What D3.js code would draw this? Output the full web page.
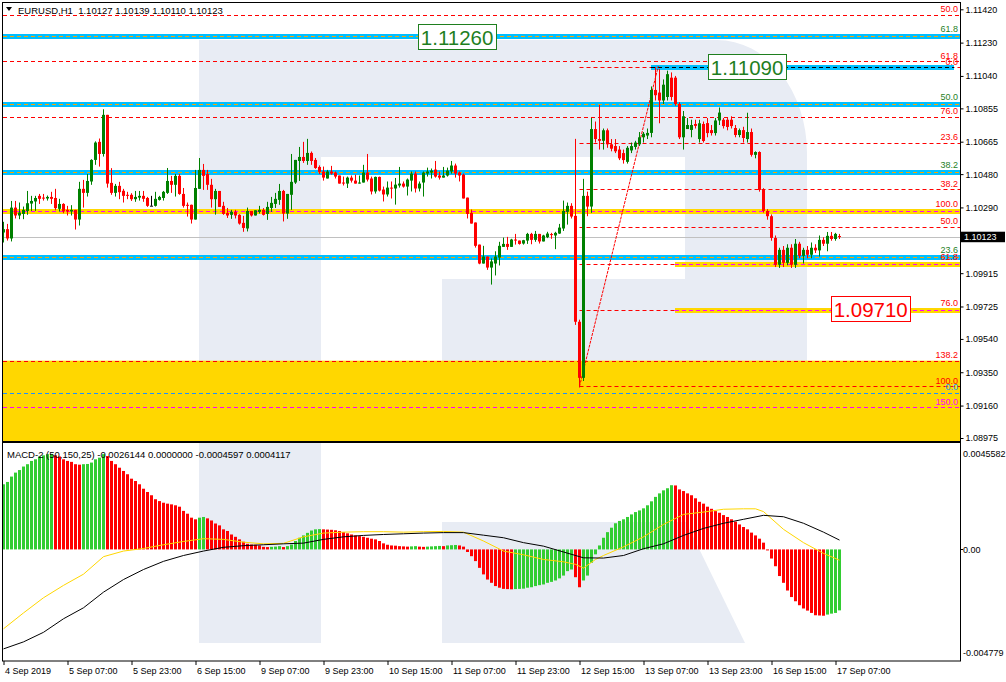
<!DOCTYPE html>
<html><head><meta charset="utf-8">
<script src="https://cdn.jsdelivr.net/npm/d3@7"></script>
<style>body{margin:0;background:#fff}svg{display:block}text{font-family:"Liberation Sans",Arial,sans-serif;white-space:pre}</style>
</head><body><svg id="c" width="1006" height="682"></svg>
<script>
// ---------- DATA ----------
const symbol = "EURUSD,H1";
const tickLabels = ["4 Sep 2019","5 Sep 07:00","5 Sep 23:00","6 Sep 15:00","9 Sep 07:00","9 Sep 23:00","10 Sep 15:00","11 Sep 07:00","11 Sep 23:00","12 Sep 15:00","13 Sep 07:00","13 Sep 23:00","16 Sep 15:00","17 Sep 07:00"];
const tickBars = [0,16,32,48,64,80,96,112,128,144,160,176,192,208];
// 1.10100 is hidden behind the current-price tag in the reference
const priceTicks = [1.11420,1.11230,1.11040,1.10855,1.10665,1.10480,1.10290,1.09915,1.09725,1.09540,1.09350,1.09160,1.08975];
const open = [
1.10147,1.10166,1.10113,1.10289,1.10244,1.10253,1.10270,1.10312,1.10324,1.10356,
1.10346,1.10341,1.10350,1.10344,1.10282,1.10310,1.10276,1.10267,1.10276,1.10221,
1.10396,1.10373,1.10438,1.10561,1.10664,1.10595,1.10818,1.10430,1.10373,1.10413,
1.10385,1.10362,1.10362,1.10337,1.10346,1.10356,1.10344,1.10300,1.10299,1.10333,
1.10344,1.10373,1.10441,1.10419,1.10470,1.10367,1.10305,1.10305,1.10221,1.10396,
1.10504,1.10481,1.10419,1.10337,1.10384,1.10299,1.10259,1.10248,1.10265,1.10248,
1.10202,1.10170,1.10270,1.10244,1.10265,1.10276,1.10253,1.10287,1.10310,1.10333,
1.10384,1.10255,1.10362,1.10432,1.10555,1.10578,1.10555,1.10601,1.10561,1.10521,
1.10495,1.10455,1.10495,1.10489,1.10472,1.10432,1.10426,1.10460,1.10443,1.10426,
1.10432,1.10489,1.10455,1.10381,1.10464,1.10392,1.10364,1.10403,1.10398,1.10415,
1.10426,1.10409,1.10443,1.10483,1.10398,1.10432,1.10483,1.10489,1.10506,1.10472,
1.10460,1.10472,1.10495,1.10529,1.10489,1.10477,1.10346,1.10259,1.10204,1.10078,
1.09970,1.10010,1.09947,1.09970,1.10004,1.10065,1.10082,1.10065,1.10107,1.10101,
1.10084,1.10101,1.10139,1.10105,1.10139,1.10096,1.10120,1.10138,1.10130,1.10141,
1.10170,1.10265,1.10299,1.10242,1.09638,1.09318,1.10356,1.10295,1.10737,1.10680,
1.10670,1.10730,1.10650,1.10640,1.10620,1.10600,1.10550,1.10615,1.10635,1.10650,
1.10690,1.10700,1.10715,1.10960,1.10945,1.10900,1.10920,1.11030,1.11030,1.10880,
1.10690,1.10737,1.10732,1.10766,1.10680,1.10766,1.10771,1.10731,1.10714,1.10786,
1.10790,1.10790,1.10790,1.10743,1.10703,1.10731,1.10680,1.10720,1.10590,1.10606,
1.10390,1.10270,1.10240,1.10116,1.09963,1.10048,1.09974,1.10060,1.09963,1.10083,
1.10014,1.10048,1.10020,1.10060,1.10045,1.10105,1.10083,1.10128,1.10110,1.10127];
const high = [
1.10208,1.10196,1.10327,1.10327,1.10318,1.10295,1.10384,1.10356,1.10356,1.10367,
1.10367,1.10358,1.10379,1.10396,1.10339,1.10314,1.10299,1.10303,1.10276,1.10436,
1.10447,1.10481,1.10565,1.10667,1.10683,1.10850,1.10818,1.10514,1.10424,1.10436,
1.10396,1.10379,1.10371,1.10384,1.10384,1.10384,1.10350,1.10356,1.10379,1.10356,
1.10384,1.10515,1.10470,1.10481,1.10481,1.10401,1.10318,1.10306,1.10504,1.10572,
1.10538,1.10504,1.10453,1.10396,1.10384,1.10322,1.10287,1.10276,1.10276,1.10251,
1.10242,1.10289,1.10270,1.10274,1.10299,1.10286,1.10322,1.10350,1.10373,1.10424,
1.10390,1.10367,1.10595,1.10561,1.10635,1.10664,1.10681,1.10609,1.10572,1.10530,
1.10523,1.10504,1.10527,1.10495,1.10472,1.10466,1.10466,1.10472,1.10477,1.10472,
1.10533,1.10595,1.10466,1.10466,1.10466,1.10409,1.10438,1.10438,1.10458,1.10521,
1.10438,1.10455,1.10495,1.10495,1.10438,1.10495,1.10517,1.10512,1.10555,1.10495,
1.10521,1.10517,1.10555,1.10540,1.10495,1.10483,1.10346,1.10278,1.10204,1.10078,
1.10071,1.10010,1.09999,1.10040,1.10094,1.10118,1.10122,1.10111,1.10139,1.10101,
1.10105,1.10145,1.10145,1.10156,1.10139,1.10134,1.10151,1.10145,1.10151,1.10196,
1.10329,1.10318,1.10314,1.10681,1.09650,1.10453,1.10380,1.10800,1.10780,1.10875,
1.10740,1.10740,1.10680,1.10680,1.10640,1.10620,1.10640,1.10660,1.10670,1.10720,
1.10720,1.10740,1.10980,1.11090,1.11080,1.11020,1.11070,1.11060,1.11040,1.10890,
1.10840,1.10800,1.10790,1.10790,1.10790,1.10780,1.10800,1.10760,1.10800,1.10860,
1.10800,1.10800,1.10810,1.10760,1.10740,1.10750,1.10830,1.10740,1.10610,1.10610,
1.10400,1.10280,1.10250,1.10130,1.10060,1.10070,1.10080,1.10080,1.10110,1.10094,
1.10060,1.10070,1.10090,1.10080,1.10130,1.10120,1.10150,1.10150,1.10145,1.10139];
const low = [
1.10090,1.10101,1.10096,1.10227,1.10223,1.10223,1.10248,1.10270,1.10270,1.10310,
1.10329,1.10329,1.10310,1.10274,1.10267,1.10257,1.10244,1.10244,1.10164,1.10187,
1.10289,1.10352,1.10419,1.10533,1.10523,1.10580,1.10403,1.10362,1.10352,1.10337,
1.10318,1.10337,1.10327,1.10322,1.10329,1.10322,1.10293,1.10299,1.10295,1.10329,
1.10329,1.10367,1.10373,1.10352,1.10362,1.10289,1.10238,1.10198,1.10221,1.10396,
1.10390,1.10390,1.10289,1.10249,1.10293,1.10248,1.10230,1.10225,1.10227,1.10192,
1.10151,1.10153,1.10238,1.10244,1.10255,1.10244,1.10219,1.10265,1.10287,1.10305,
1.10210,1.10225,1.10276,1.10424,1.10441,1.10544,1.10533,1.10533,1.10510,1.10480,
1.10443,1.10455,1.10477,1.10455,1.10426,1.10415,1.10401,1.10432,1.10426,1.10426,
1.10432,1.10438,1.10364,1.10369,1.10381,1.10324,1.10352,1.10341,1.10306,1.10403,
1.10403,1.10358,1.10381,1.10375,1.10381,1.10352,1.10466,1.10455,1.10460,1.10449,
1.10460,1.10466,1.10483,1.10460,1.10438,1.10341,1.10227,1.10198,1.10061,1.09966,
1.09970,1.09934,1.09850,1.09902,1.09959,1.10065,1.10048,1.10065,1.10078,1.10078,
1.10078,1.10082,1.10080,1.10094,1.10084,1.10096,1.10115,1.10111,1.10052,1.10139,
1.10156,1.10192,1.10227,1.09620,1.09263,1.09300,1.10240,1.10259,1.10660,1.10620,
1.10620,1.10630,1.10610,1.10600,1.10560,1.10540,1.10540,1.10600,1.10620,1.10640,
1.10660,1.10680,1.10690,1.10900,1.10770,1.10880,1.10900,1.10900,1.10870,1.10680,
1.10620,1.10740,1.10690,1.10740,1.10660,1.10660,1.10690,1.10700,1.10700,1.10760,
1.10740,1.10730,1.10740,1.10690,1.10690,1.10660,1.10660,1.10580,1.10570,1.10380,
1.10260,1.10220,1.10100,1.09950,1.09945,1.09950,1.09960,1.09945,1.09945,1.10000,
1.09970,1.10000,1.10000,1.10030,1.10010,1.10070,1.10040,1.10100,1.10100,1.10110];
const close = [
1.10166,1.10113,1.10289,1.10244,1.10261,1.10276,1.10314,1.10327,1.10344,1.10339,
1.10341,1.10350,1.10339,1.10286,1.10310,1.10267,1.10267,1.10276,1.10221,1.10396,
1.10373,1.10441,1.10561,1.10660,1.10595,1.10818,1.10426,1.10373,1.10413,1.10377,
1.10356,1.10356,1.10337,1.10350,1.10356,1.10339,1.10299,1.10300,1.10339,1.10350,
1.10379,1.10441,1.10419,1.10470,1.10367,1.10299,1.10299,1.10221,1.10401,1.10504,
1.10470,1.10419,1.10337,1.10384,1.10293,1.10253,1.10244,1.10265,1.10244,1.10198,
1.10173,1.10270,1.10244,1.10274,1.10276,1.10248,1.10293,1.10316,1.10339,1.10384,
1.10255,1.10367,1.10436,1.10561,1.10578,1.10555,1.10601,1.10555,1.10515,1.10493,
1.10460,1.10495,1.10483,1.10466,1.10426,1.10426,1.10460,1.10443,1.10426,1.10432,
1.10489,1.10449,1.10381,1.10464,1.10386,1.10364,1.10403,1.10398,1.10420,1.10426,
1.10409,1.10449,1.10483,1.10398,1.10426,1.10489,1.10495,1.10500,1.10466,1.10460,
1.10472,1.10500,1.10529,1.10483,1.10472,1.10341,1.10253,1.10198,1.10071,1.09970,
1.10010,1.09947,1.09982,1.10010,1.10071,1.10082,1.10065,1.10107,1.10101,1.10082,
1.10103,1.10139,1.10105,1.10139,1.10096,1.10130,1.10141,1.10137,1.10145,1.10175,
1.10270,1.10299,1.10238,1.09638,1.09318,1.10356,1.10295,1.10737,1.10680,1.10670,
1.10730,1.10650,1.10625,1.10610,1.10570,1.10560,1.10630,1.10640,1.10660,1.10690,
1.10710,1.10715,1.10960,1.10930,1.10900,1.10990,1.11050,1.10920,1.10880,1.10690,
1.10810,1.10760,1.10760,1.10755,1.10770,1.10669,1.10714,1.10714,1.10786,1.10831,
1.10754,1.10749,1.10754,1.10703,1.10731,1.10686,1.10720,1.10590,1.10606,1.10390,
1.10270,1.10240,1.10116,1.09963,1.10048,1.09974,1.10060,1.09963,1.10083,1.10014,
1.10048,1.10020,1.10060,1.10045,1.10105,1.10083,1.10128,1.10110,1.10139,1.10123];
const macdHist = [
0.00279,0.00289,0.00312,0.00329,0.00340,0.00355,0.00365,0.00379,0.00386,0.00398,
0.00403,0.00408,0.00409,0.00403,0.00398,0.00386,0.00379,0.00375,0.00365,0.00363,
0.00365,0.00366,0.00372,0.00386,0.00393,0.00408,0.00400,0.00379,0.00365,0.00350,
0.00336,0.00322,0.00303,0.00293,0.00279,0.00260,0.00246,0.00232,0.00215,0.00207,
0.00200,0.00196,0.00193,0.00189,0.00183,0.00165,0.00153,0.00136,0.00129,0.00136,
0.00139,0.00133,0.00124,0.00111,0.00103,0.00086,0.00079,0.00064,0.00054,0.00043,
0.00033,0.00024,0.00021,0.00020,0.00017,0.00011,0.00010,0.00011,0.00012,0.00014,
0.00010,0.00014,0.00021,0.00036,0.00050,0.00060,0.00071,0.00081,0.00086,0.00087,
0.00086,0.00085,0.00084,0.00082,0.00079,0.00074,0.00069,0.00064,0.00060,0.00057,
0.00054,0.00050,0.00046,0.00043,0.00036,0.00026,0.00020,0.00017,0.00016,0.00014,
0.00013,0.00012,0.00013,0.00014,0.00012,0.00011,0.00012,0.00013,0.00014,0.00015,
0.00014,0.00017,0.00018,0.00019,0.00017,0.00012,-0.00011,-0.00029,-0.00050,-0.00079,
-0.00107,-0.00129,-0.00143,-0.00157,-0.00164,-0.00169,-0.00170,-0.00171,-0.00170,-0.00169,
-0.00168,-0.00164,-0.00162,-0.00157,-0.00153,-0.00150,-0.00143,-0.00139,-0.00133,-0.00124,
-0.00112,-0.00093,-0.00086,-0.00119,-0.00162,-0.00133,-0.00112,-0.00057,-0.00021,0.00017,
0.00050,0.00074,0.00093,0.00112,0.00122,0.00129,0.00139,0.00150,0.00160,0.00167,
0.00176,0.00189,0.00206,0.00225,0.00240,0.00253,0.00262,0.00275,0.00274,0.00257,
0.00250,0.00240,0.00232,0.00219,0.00204,0.00196,0.00183,0.00174,0.00164,0.00157,
0.00147,0.00139,0.00129,0.00119,0.00107,0.00096,0.00086,0.00072,0.00060,0.00046,
0.00029,-0.00002,-0.00039,-0.00072,-0.00114,-0.00143,-0.00176,-0.00204,-0.00222,-0.00239,
-0.00253,-0.00262,-0.00272,-0.00282,-0.00283,-0.00284,-0.00279,-0.00275,-0.00272,-0.00261];
const yellowBars = [0,5,10,15,20,25,30,35,40,45,50,55,60,65,70,75,80,85,90,95,100,105,110,115,120,125,130,135,140,143,145,148,150,155,160,165,170,175,180,185,188,190,195,200,205,209];
const yellowVals = [-0.00340,-0.00272,-0.00207,-0.00154,-0.00106,-0.00031,-0.00007,0.00004,0.00020,0.00034,0.00046,0.00043,0.00031,0.00024,0.00026,0.00054,0.00070,0.00074,0.00076,0.00076,0.00074,0.00076,0.00077,0.00074,0.00036,-0.00007,-0.00023,-0.00043,-0.00053,-0.00064,-0.00080,-0.00043,-0.00026,0.00011,0.00054,0.00107,0.00150,0.00160,0.00172,0.00174,0.00174,0.00162,0.00086,0.00029,-0.00017,-0.00046];
const blackBars = [0,5,10,15,20,25,30,35,40,45,50,55,60,65,70,75,80,85,90,95,100,105,110,115,120,125,130,135,140,145,150,155,160,165,170,175,180,185,190,195,200,205,209];
const blackVals = [-0.00426,-0.00396,-0.00355,-0.00297,-0.00250,-0.00183,-0.00129,-0.00086,-0.00051,-0.00026,-0.00007,0.00009,0.00016,0.00020,0.00024,0.00027,0.00043,0.00054,0.00060,0.00064,0.00067,0.00070,0.00072,0.00072,0.00061,0.00050,0.00029,0.00014,-0.00011,-0.00036,-0.00037,-0.00026,0.00003,0.00024,0.00060,0.00090,0.00112,0.00129,0.00146,0.00140,0.00112,0.00074,0.00040];
const macdTicks = [0.0045582, 0, -0.004779];
const macdTickLabels = ["0.0045582", "0.00", "-0.004779"];
const macdHeader = "MACD-2 (50,150,25) -0.0026144 0.0000000 -0.0004597 0.0004117";
// fibonacci tools: price at 0% and 100%, shown levels, first bar
const fibA = {p0:1.11090, p100:1.09269, levels:[0,23.6,38.2,50,61.8,76,100], from:144};
const fibB = {p0:1.12508, p100:1.10270, levels:[50,61.8,76,100,138.2,150], from:0};
const fibC = {p0:1.09234, p100:1.12522, levels:[0,23.6,38.2,50,61.8], from:0};
const fibTrend = {bar0:144, p0:1.09269, bar1:163.7, p1:1.11096};
const goldZoneTop = 1.09416;
const labelPrices = [1.11260, 1.11090, 1.09710];
const labelBars = [113.4, 185.9, 216.8];
const currentPrice = 1.10123;

// ---------- SCALES ----------
const svg = d3.select("#c");
const PL=3, PR=960, PT=3, PB=441, MT=443, MB=661;
const x = d3.scaleLinear().domain([0,209]).range([3.5, 839.5]);
const y = d3.scaleLinear().domain([1.08975,1.11420]).range([438,9.3]);
const ym = d3.scaleLinear().domain([-0.004779,0.0045582]).range([661,443]);
const fibPrice = (f,l)=> f.p0 + l/100*(f.p100-f.p0);
const fmt1 = d3.format(".1f");
const RED="#ff0000", GREEN="#1f7f1f", BLUE="#00bfff", GOLD="#ffd700", MAG="#ff00ff", ORANGE="#ffa500";
const AX = "9px";

const defs = svg.append("defs");
defs.append("clipPath").attr("id","cpTop").append("rect").attr("x",PL).attr("y",PT).attr("width",PR-PL).attr("height",PB-PT);
defs.append("clipPath").attr("id","cpM").append("rect").attr("x",PL).attr("y",MT).attr("width",PR-PL).attr("height",MB-MT);

// watermark
const wm = svg.append("g").attr("fill","#e8ecf4");
wm.append("path").attr("d","M199,40H717A90,113 0 0 1 807,153V380A61,61 0 0 1 746,441H442V279H685V157H321V643H199Z");
wm.append("path").attr("d","M442,522H686L745,643H442Z");

const topG = svg.append("g").attr("clip-path","url(#cpTop)");
topG.append("rect").attr("x",PL).attr("width",PR-PL).attr("y",y(goldZoneTop)).attr("height",PB-y(goldZoneTop)).attr("fill",GOLD);

function hline(g, price, x0, x1, color, w, dash){
  const yy = Math.round(y(price))+0.5;
  g.append("line").attr("x1",x0).attr("x2",x1).attr("y1",yy).attr("y2",yy)
   .attr("stroke",color).attr("stroke-width",w).attr("stroke-dasharray",dash||null);
}
fibB.levels.forEach(l=>{
  const p=fibPrice(fibB,l);
  if(l===100){ hline(topG,p,PL,PR,GOLD,5); hline(topG,p,PL,PR,MAG,1,"4,3"); }
  else if(l===150){ hline(topG,p,PL,PR,MAG,1,"4,3"); }
  else hline(topG,p,PL,PR,RED,1,"4,3");
});
fibC.levels.forEach(l=>{
  const p=fibPrice(fibC,l);
  if(l===0){ hline(topG,p,PL,PR,"#1e90ff",1,"4,3"); }
  else { hline(topG,p,PL,PR,BLUE,5); hline(topG,p,PL,PR,ORANGE,1,"4,3"); }
});
fibA.levels.forEach(l=>{ hline(topG,fibPrice(fibA,l),x(fibA.from),PR,RED,1,"4,3"); });
[61.8,76].forEach(l=>{
  const p=fibPrice(fibA,l);
  hline(topG,p,x(168)-0.5,PR,GOLD,5); hline(topG,p,x(168)-0.5,PR,MAG,1,"4,3");
});
hline(topG,fibA.p0,x(162)-0.5,PR-6,BLUE,5); hline(topG,fibA.p0,x(162)-0.5,PR-6,"#000",1,"4,3");
hline(topG,currentPrice,PL,PR,"#c0c0c0",1);
topG.append("line").attr("x1",x(fibTrend.bar0)).attr("y1",y(fibTrend.p0)).attr("x2",x(fibTrend.bar1)).attr("y2",y(fibTrend.p1))
  .attr("stroke",RED).attr("stroke-width",1).attr("stroke-dasharray","3,1");

// candles
const idx = d3.range(open.length);
const cg = topG.append("g");
idx.forEach(i=>{
  const o=open[i],c=close[i];
  const col = c>o? "#008000" : (c<o? RED : "#000");
  const xc = x(i);
  cg.append("line").attr("x1",xc).attr("x2",xc).attr("y1",y(high[i])).attr("y2",y(low[i])).attr("stroke",col).attr("stroke-width",1);
  const y0=y(Math.max(o,c)), y1=y(Math.min(o,c));
  cg.append("rect").attr("x",xc-1.5).attr("width",3).attr("y",y0).attr("height",Math.max(1,y1-y0)).attr("fill",col);
});

// fib labels
const lab = svg.append("g").attr("font-size","9px").attr("text-anchor","end");
function flabel(price, txt, color, off){
  lab.append("text").attr("x",958).attr("y",y(price)-off).attr("fill",color).text(txt);
}
fibB.levels.forEach(l=>flabel(fibPrice(fibB,l), fmt1(l), l===150?MAG:RED, l===100?4:2.5));
fibC.levels.forEach(l=>flabel(fibPrice(fibC,l), fmt1(l), l===0?"#1e90ff":GREEN, l===0?2.5:4));
fibA.levels.forEach(l=>flabel(fibPrice(fibA,l), fmt1(l), RED, (l===61.8||l===76)?4:2.5));

// big price labels
labelPrices.forEach((p,k)=>{
  const col = p < currentPrice ? RED : GREEN;
  const g = svg.append("g");
  const t = g.append("text").attr("x",x(labelBars[k])).attr("y",y(p)+7.5).attr("text-anchor","middle")
    .attr("font-size","20.5px").attr("fill",col).text(d3.format(".5f")(p));
  const bb = t.node().getBBox();
  g.insert("rect","text").attr("x",Math.round(bb.x)-2.5).attr("y",Math.round(y(p))-12.5).attr("width",Math.round(bb.width)+5).attr("height",25)
    .attr("fill","#fff").attr("stroke",col).attr("stroke-width",1);
});

// MACD panel
const mg = svg.append("g").attr("clip-path","url(#cpM)");
idx.forEach(i=>{
  const v=macdHist[i];
  const col = (i===0 || v>macdHist[i-1]) ? "#32cd32" : RED;
  const y0=ym(Math.max(v,0)), y1=ym(Math.min(v,0));
  mg.append("rect").attr("x",x(i)-1.5).attr("width",3).attr("y",y0).attr("height",Math.max(1,y1-y0)).attr("fill",col);
});
const ln = d3.line().x(d=>x(d[0])).y(d=>ym(d[1]));
mg.append("path").attr("d",ln(yellowBars.map((b,k)=>[b,yellowVals[k]]))).attr("fill","none").attr("stroke",GOLD).attr("stroke-width",1);
mg.append("path").attr("d",ln(blackBars.map((b,k)=>[b,blackVals[k]]))).attr("fill","none").attr("stroke","#000").attr("stroke-width",1);

// frames
svg.append("rect").attr("x",2.5).attr("y",2.5).attr("width",PR-2).attr("height",PB-2).attr("fill","none").attr("stroke","#000");
svg.append("rect").attr("x",2.5).attr("y",MT-0.5).attr("width",PR-2).attr("height",MB-MT+0.5).attr("fill","none").attr("stroke","#000");

// price axis
const ya = svg.append("g").attr("transform",`translate(${PR+0.5},0)`)
  .call(d3.axisRight(y).tickValues(priceTicks).tickFormat(d3.format(".5f")).tickSize(3).tickPadding(2));
ya.select(".domain").remove();
ya.selectAll("text").attr("font-size",AX).attr("font-family","Liberation Sans, Arial, sans-serif").attr("fill","#000");
// current price tag
svg.append("rect").attr("x",961).attr("y",y(currentPrice)-5).attr("width",44).attr("height",10.5).attr("fill","#000");
svg.append("text").attr("x",964).attr("y",y(currentPrice)+3.5).attr("font-size",AX).attr("fill","#fff").text(d3.format(".5f")(currentPrice));

// MACD axis labels
const moff = [14, 3.5, -5];
macdTicks.forEach((v,k)=>{
  svg.append("text").attr("x",963).attr("y",ym(v)+moff[k]).attr("font-size",AX).attr("fill","#000").text(macdTickLabels[k]);
});
svg.append("line").attr("x1",PR).attr("x2",PR+3).attr("y1",Math.round(ym(0))+0.5).attr("y2",Math.round(ym(0))+0.5).attr("stroke","#000");

// time axis
const xa = svg.append("g").attr("transform",`translate(0,${MB})`)
  .call(d3.axisBottom(x).tickValues(tickBars).tickFormat((d,i)=>tickLabels[i]).tickSize(4).tickPadding(3));
xa.select(".domain").remove();
xa.selectAll("text").attr("text-anchor","start").attr("dx","1").attr("font-size",AX).attr("font-family","Liberation Sans, Arial, sans-serif").attr("fill","#000");

// headers
const last = open.length-1;
svg.append("path").attr("d","M6,7H12L9,11Z").attr("fill","#000");
svg.append("text").attr("x",18).attr("y",14).attr("font-size","9.5px").attr("fill","#000")
  .text(`${symbol}  ${open[last].toFixed(5)} ${high[last].toFixed(5)} ${low[last].toFixed(5)} ${close[last].toFixed(5)}`);
svg.append("text").attr("x",7).attr("y",458).attr("font-size","9.5px").attr("fill","#000").text(macdHeader);
</script></body></html>
